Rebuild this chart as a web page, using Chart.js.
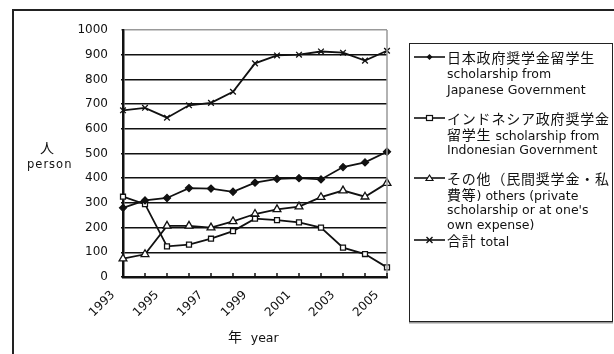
<!DOCTYPE html>
<html>
<head>
<meta charset="utf-8">
<script src="https://cdn.jsdelivr.net/npm/chart.js@4/dist/chart.umd.min.js"></script>
<style>
  body { margin: 0; background: #fff; }
  #wrap { position: relative; width: 614px; height: 354px; overflow: hidden; }
  #frame { position: absolute; left: 12px; top: 9px; width: 700px; height: 400px;
           border-left: 2px solid #222; border-top: 2px solid #222; }
  #legend { position: absolute; left: 409px; top: 43px; width: 202px; height: 277px;
            border: 1.5px solid #222; box-shadow: 0 1.5px 0 #999; }
  .t { position: absolute; white-space: nowrap; line-height: 16px; height: 16px;
       font-family: "DejaVu Sans", sans-serif; font-size: 12.5px; color: #111; }
  .j { font-family: "Noto Sans CJK JP", sans-serif; font-size: 14px; letter-spacing: 0.8px; }
  .mk { position: absolute; left: 414px; }
  canvas { position: absolute; left: 0; top: 0; }
</style>
</head>
<body>
<div id="wrap">
  <canvas id="grafico" width="614" height="354"></canvas>
  <div id="frame"></div>
  <div id="legend"></div>
  <div id="leg"></div>
  <div class="t j" style="left:40px;top:139px;">人</div>
  <div class="t" style="left:27px;top:156px;font-size:11.5px;letter-spacing:1px;">person</div>
  <div class="t" style="left:228px;top:328px;"><span class="j">年</span>&nbsp;&nbsp;year</div>
</div>
<script>
var years = ['1993', '1994', '1995', '1996', '1997', '1998', '1999', '2000', '2001', '2002', '2003', '2004', '2005'];
var yTicks = [0, 100, 200, 300, 400, 500, 600, 700, 800, 900, 1000];

var japonGob = [280, 310, 320, 360, 358, 345, 382, 397, 400, 395, 445, 464, 507];
var indonesiaGob = [325, 295, 124, 131, 155, 186, 236, 230, 221, 200, 119, 93, 39];
var otros = [74, 92, 207, 207, 200, 225, 255, 274, 285, 323, 350, 325, 380];
var total = [675, 685, 645, 695, 705, 750, 865, 897, 900, 913, 908, 876, 916];

var nombres = [
    ['日本政府奨学金留学生', 'scholarship from', 'Japanese Government'],
    ['インドネシア政府奨学金', '留学生 scholarship from', 'Indonesian Government'],
    ['その他（民間奨学金・私', '費等) others (private', 'scholarship or at one\'s', 'own expense)'],
    ['合計 total']
];
var filasY = [[57, 74, 90], [118, 134, 150], [178, 194, 210, 225], [240]];
var estilos = ['rectRot', 'rect', 'triangle', 'crossRot'];

// legend text, japanese runs in a CJK font
var leg = document.getElementById('leg');
function pintaLinea(txt, y) {
    var d = document.createElement('div');
    d.className = 't';
    d.style.left = '447px';
    d.style.top = (y - 8) + 'px';
    var partes = txt.match(/[\u3000-\u9fff\uff00-\uffef（）]+|[^\u3000-\u9fff\uff00-\uffef（）]+/g);
    partes.forEach(function (p) {
        var s = document.createElement('span');
        if (/[\u3000-\u9fff\uff00-\uffef（）]/.test(p)) s.className = 'j';
        s.textContent = p;
        d.appendChild(s);
    });
    leg.appendChild(d);
}
function pintaMarca(estilo, y) {
    var ns = 'http://www.w3.org/2000/svg';
    var svg = document.createElementNS(ns, 'svg');
    svg.setAttribute('width', '32');
    svg.setAttribute('height', '12');
    svg.setAttribute('class', 'mk');
    svg.style.top = (y - 6) + 'px';
    var html = '<line x1="0" y1="6" x2="31" y2="6" stroke="#111" stroke-width="1.6"/>';
    if (estilo == 'rectRot') html += '<polygon points="15.5,3 18.5,6 15.5,9 12.5,6" fill="#111"/>';
    if (estilo == 'rect') html += '<rect x="12.5" y="3.5" width="6" height="5" fill="#fff" stroke="#111" stroke-width="1.2"/>';
    if (estilo == 'triangle') html += '<polygon points="15.5,3 19,8.5 12,8.5" fill="#fff" stroke="#111" stroke-width="1.2"/>';
    if (estilo == 'crossRot') html += '<path d="M12.5 3 L18.5 9 M18.5 3 L12.5 9" stroke="#111" stroke-width="1.4"/>';
    svg.innerHTML = html;
    leg.appendChild(svg);
}
nombres.forEach(function (lineas, i) {
    pintaMarca(estilos[i], filasY[i][0]);
    lineas.forEach(function (l, k) { pintaLinea(l, filasY[i][k]); });
});

// small inner tick marks on the year axis and grey right edge of the plot
var marcas = {
    id: 'marcas',
    afterDraw: function (chart) {
        var c = chart.ctx, a = chart.chartArea, x = chart.scales.x;
        c.save();
        c.strokeStyle = '#999';
        c.lineWidth = 1.5;
        c.beginPath();
        c.moveTo(a.right, a.top);
        c.lineTo(a.right, a.bottom);
        c.stroke();
        c.strokeStyle = '#111';
        c.lineWidth = 1.5;
        for (var i = 0; i < years.length; i++) {
            var px = x.getPixelForTick(i);
            c.beginPath();
            c.moveTo(px, a.bottom);
            c.lineTo(px, a.bottom - 4);
            c.stroke();
        }
        c.restore();
    }
};

function serie(datos, estilo, radio, relleno) {
    return {
        data: datos,
        borderColor: '#111',
        borderWidth: 1.8,
        tension: 0,
        pointStyle: estilo,
        pointRadius: radio,
        pointBackgroundColor: relleno,
        pointBorderColor: '#111',
        pointBorderWidth: 1.3
    };
}

var ctx = document.getElementById('grafico').getContext('2d');
var grafico = new Chart(ctx, {
    type: 'line',
    data: {
        labels: years,
        datasets: [
            serie(japonGob, 'rectRot', 3.5, '#111'),
            serie(indonesiaGob, 'rect', 3.5, '#fff'),
            serie(otros, 'triangle', 4.5, '#fff'),
            serie(total, 'crossRot', 4, '#111')
        ]
    },
    options: {
        responsive: false,
        animation: false,
        layout: { padding: { left: 0, right: 227, top: 30, bottom: 0 } },
        plugins: { legend: { display: false }, tooltip: { enabled: false } },
        scales: {
            x: {
                offset: false,
                grid: { drawOnChartArea: false, drawTicks: false },
                border: { color: '#111', width: 2.5 },
                afterFit: function (s) { s.height = 77; },
                ticks: {
                    autoSkip: false,
                    minRotation: 45,
                    maxRotation: 45,
                    padding: 11,
                    labelOffset: -10,
                    color: '#111',
                    font: { family: 'DejaVu Sans', size: 12 },
                    callback: function (v, i) { return i % 2 === 0 ? years[i] : ''; }
                }
            },
            y: {
                min: 0,
                max: 1000,
                afterFit: function (s) { s.width = 123; },
                afterBuildTicks: function (s) { s.ticks = yTicks.map(function (v) { return { value: v }; }); },
                grid: {
                    color: function (c) { return c.tick && c.tick.value === 1000 ? '#999' : '#111'; },
                    lineWidth: 1.5,
                    tickLength: 2
                },
                border: { color: '#111', width: 2.5 },
                ticks: {
                    padding: 13,
                    color: '#111',
                    font: { family: 'DejaVu Sans', size: 12 },
                    callback: function (v) { return String(v); }
                }
            }
        }
    },
    plugins: [marcas]
});
</script>
</body>
</html>
